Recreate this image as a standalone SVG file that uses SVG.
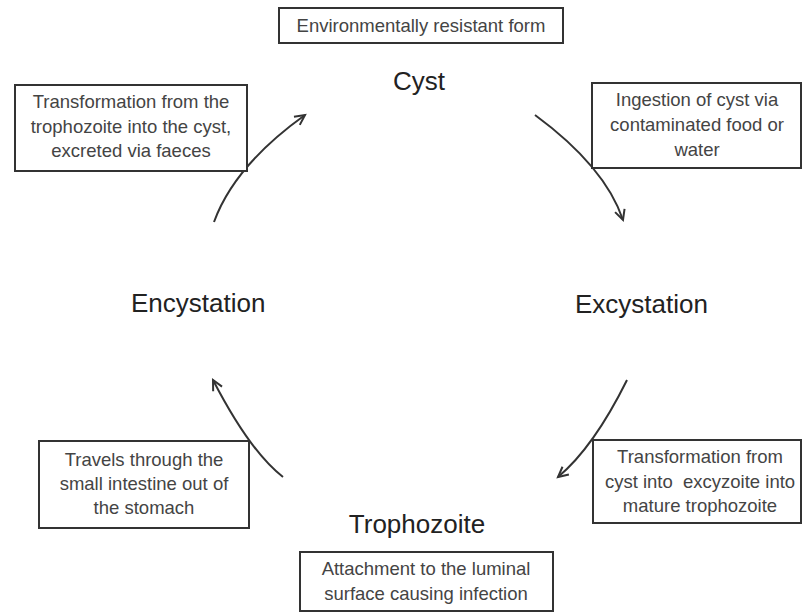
<svg xmlns="http://www.w3.org/2000/svg" width="803" height="613" viewBox="0 0 803 613">
<style>
.box{fill:#fff;stroke:#333;stroke-width:2}
.bt{font-family:"Liberation Sans",Arial,sans-serif;font-size:18.5px;fill:#444;text-anchor:middle}
.lbl{font-family:"Liberation Sans",Arial,sans-serif;font-size:26px;fill:#222}
.arr{fill:none;stroke:#333;stroke-width:2;marker-end:url(#ah)}
</style>
<defs>
<marker id="ah" markerUnits="userSpaceOnUse" markerWidth="14" markerHeight="14" refX="11" refY="6" orient="auto" viewBox="0 0 14 12">
<path d="M1,1 L11,6 L1,11" fill="none" stroke="#333" stroke-width="2"/>
</marker>
</defs>
<rect width="803" height="613" fill="#fff"/>
<g id="connectors">
<path class="arr" d="M214,222 Q234.5,165.5 305,115"/>
<path class="arr" d="M535,115 Q605,166.5 623,220"/>
<path class="arr" d="M627,380 Q593.5,447.5 558,477"/>
<path class="arr" d="M283,477 Q250,451.5 213,380"/>
</g>
<g id="cyst-note">
<rect class="box" x="279" y="8" width="284" height="35"/>
<text class="bt" x="421" y="32">Environmentally resistant form</text>
</g>
<g id="cyst"><text class="lbl" x="419" y="90" text-anchor="middle">Cyst</text></g>
<g id="encystation-note">
<rect class="box" x="15" y="85" width="232" height="86"/>
<text class="bt" x="131" y="108">Transformation from the</text>
<text class="bt" x="131" y="133">trophozoite into the cyst,</text>
<text class="bt" x="131" y="157">excreted via faeces</text>
</g>
<g id="ingestion-note">
<rect class="box" x="592" y="83" width="209" height="85"/>
<text class="bt" x="697" y="106">Ingestion of cyst via</text>
<text class="bt" x="697" y="131">contaminated food or</text>
<text class="bt" x="697" y="156">water</text>
</g>
<g id="encystation"><text class="lbl" x="131" y="312">Encystation</text></g>
<g id="excystation"><text class="lbl" x="575" y="313">Excystation</text></g>
<g id="travel-note">
<rect class="box" x="39" y="441" width="210" height="87"/>
<text class="bt" x="144" y="466">Travels through the</text>
<text class="bt" x="144" y="490">small intestine out of</text>
<text class="bt" x="144" y="514">the stomach</text>
</g>
<g id="transformation-note">
<rect class="box" x="593" y="440" width="208" height="83"/>
<text class="bt" x="700" y="463">Transformation from</text>
<text class="bt" x="700" y="488" xml:space="preserve">cyst into  excyzoite into</text>
<text class="bt" x="700" y="512">mature trophozoite</text>
</g>
<g id="trophozoite"><text class="lbl" x="417" y="533" text-anchor="middle">Trophozoite</text></g>
<g id="attachment-note">
<rect class="box" x="300" y="552" width="253" height="59"/>
<text class="bt" x="426" y="575">Attachment to the luminal</text>
<text class="bt" x="426" y="600">surface causing infection</text>
</g>
</svg>
